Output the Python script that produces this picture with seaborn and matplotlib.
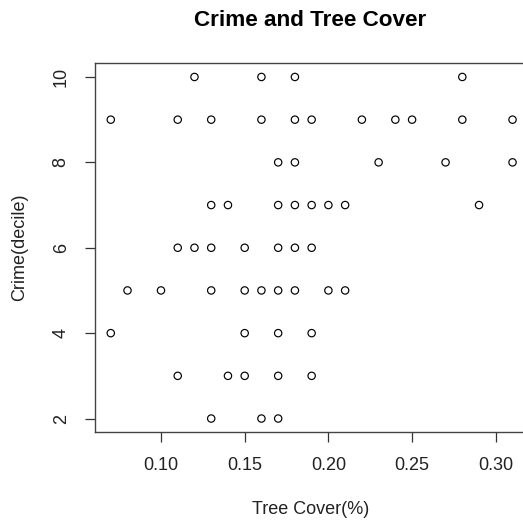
#!/usr/bin/env python3
"""Crime decile vs tree cover scatter, drawn in the plain R base-graphics look"""

import pandas as pd
import matplotlib
matplotlib.use("Agg")
import matplotlib.pyplot as plt
import seaborn as sns

# tree cover (fraction) for each crime decile row
cover_d10 = [0.12, 0.16, 0.18, 0.28]
cover_d9 = [0.07, 0.11, 0.13, 0.16, 0.18, 0.19, 0.22, 0.24, 0.25, 0.28, 0.31]
cover_d8 = [0.17, 0.18, 0.23, 0.27, 0.31]
cover_d7 = [0.13, 0.14, 0.17, 0.18, 0.19, 0.20, 0.21, 0.29]
cover_d6 = [0.11, 0.12, 0.13, 0.15, 0.17, 0.18, 0.19]
cover_d5 = [0.08, 0.10, 0.13, 0.15, 0.16, 0.17, 0.18, 0.20, 0.21]
cover_d4 = [0.07, 0.15, 0.17, 0.19]
cover_d3 = [0.11, 0.14, 0.15, 0.17, 0.19]
cover_d2 = [0.13, 0.16, 0.17]

deciles = [10, 9, 8, 7, 6, 5, 4, 3, 2]
x_ticks = [0.10, 0.15, 0.20, 0.25, 0.30]
x_ticklabels = ["0.10", "0.15", "0.20", "0.25", "0.30"]
y_ticks = [2, 4, 6, 8, 10]


def build_frame():
    """Stack the per-decile lists into one long table"""
    rows = []
    groups = [cover_d10, cover_d9, cover_d8, cover_d7, cover_d6,
              cover_d5, cover_d4, cover_d3, cover_d2]
    for decile, covers in zip(deciles, groups):
        for c in covers:
            rows.append({"tree_cover": c, "crime": decile})
    return pd.DataFrame(rows)


def main():
    df = build_frame()

    sns.set_style("white")
    plt.rcParams["font.family"] = ["Liberation Sans", "DejaVu Sans"]

    W, H = 523, 522
    fig = plt.figure(figsize=(W / 100, H / 100), dpi=100)

    # R pads the data range by 4% on each side
    xmin, xmax = df["tree_cover"].min(), df["tree_cover"].max()
    ymin, ymax = df["crime"].min(), df["crime"].max()
    xpad = (xmax - xmin) * 0.04
    ypad = (ymax - ymin) * 0.04

    left, right, top, bottom = 94.7, 528.6, 63.3, 432.2
    ax = fig.add_axes([left / W, 1 - bottom / H, (right - left) / W, (bottom - top) / H])

    sns.scatterplot(data=df, x="tree_cover", y="crime", ax=ax,
                    marker="o", s=28, facecolor="none",
                    edgecolor="black", linewidth=0.85)

    ax.set_xlim(xmin - xpad, xmax + xpad)
    ax.set_ylim(ymin - ypad, ymax + ypad)
    ax.set_xticks(x_ticks)
    ax.set_xticklabels(x_ticklabels)
    ax.set_yticks(y_ticks)
    ax.set_yticklabels([str(v) for v in y_ticks], rotation=90, va="center")
    ax.tick_params(axis="both", direction="out", length=7.5, width=0.9,
                   bottom=True, left=True, color="#333333",
                   labelsize=13, labelcolor="#222222")
    ax.tick_params(axis="x", pad=10.5)
    ax.tick_params(axis="y", pad=10.5)
    ax.set_xlabel("")
    ax.set_ylabel("")
    for sp in ax.spines.values():
        sp.set_color("#444444")
        sp.set_linewidth(1.0)

    fig.text(311 / W, 1 - 510 / H, "Tree Cover(%)", ha="center", va="center",
             fontsize=13, color="#222222")
    fig.text(20 / W, 1 - 247.7 / H, "Crime(decile)", ha="center", va="center",
             rotation=90, fontsize=13, color="#222222")
    fig.text(310 / W, 1 - 21 / H, "Crime and Tree Cover", ha="center", va="center",
             fontsize=16.2, fontweight="bold", color="black")

    fig.savefig("out.png", dpi=100)
    plt.close(fig)


if __name__ == "__main__":
    main()
